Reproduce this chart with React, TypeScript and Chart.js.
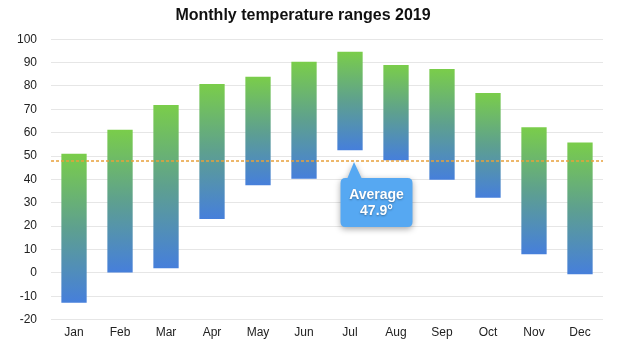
import React, { useEffect, useRef } from "react";
import { Chart, registerables } from "chart.js";

Chart.register(...registerables);

const MONTHS = ["Jan", "Feb", "Mar", "Apr", "May", "Jun", "Jul", "Aug", "Sep", "Oct", "Nov", "Dec"];
const LOWS = [-12.8, 0.2, 2.0, 23.0, 37.5, 40.3, 52.5, 48.2, 39.8, 32.2, 8.0, -0.6];
const HIGHS = [51.0, 61.3, 71.8, 80.8, 83.9, 90.3, 94.6, 89.0, 87.3, 77.0, 62.3, 55.8];
const AVERAGE = 47.9;
const AVERAGE_LABEL = ["Average", "47.9°"];
const CALLOUT_MONTH = "Jul";
const TITLE = "Monthly temperature ranges 2019";

const FONT = "'Liberation Sans', Arial, Helvetica, sans-serif";

const averagePlugin = {
  id: "averageCallout",
  afterDatasetsDraw(chart: any) {
    const { ctx, chartArea, scales } = chart;
    const y = scales.y.getPixelForValue(AVERAGE);
    ctx.save();
    // dashed line
    ctx.strokeStyle = "#e8a03a";
    ctx.lineWidth = 1.6;
    ctx.setLineDash([3, 2]);
    ctx.beginPath();
    ctx.moveTo(chartArea.left, y);
    ctx.lineTo(chartArea.right, y);
    ctx.stroke();
    ctx.setLineDash([]);

    // callout
    const idx = MONTHS.indexOf(CALLOUT_MONTH);
    const tipX = scales.x.getPixelForValue(idx) + 4;
    const tipY = y + 1;
    const bx = tipX - 13.5;
    const by = tipY + 16;
    const bw = 72;
    const bh = 49;
    const r = 5;
    ctx.fillStyle = "#56a8f2";
    ctx.shadowColor = "rgba(0,0,0,0.35)";
    ctx.shadowBlur = 6;
    ctx.shadowOffsetY = 2;
    ctx.beginPath();
    ctx.moveTo(bx + r, by);
    ctx.lineTo(tipX - 6.5, by);
    ctx.lineTo(tipX, tipY);
    ctx.lineTo(tipX + 7.5, by);
    ctx.lineTo(bx + bw - r, by);
    ctx.quadraticCurveTo(bx + bw, by, bx + bw, by + r);
    ctx.lineTo(bx + bw, by + bh - r);
    ctx.quadraticCurveTo(bx + bw, by + bh, bx + bw - r, by + bh);
    ctx.lineTo(bx + r, by + bh);
    ctx.quadraticCurveTo(bx, by + bh, bx, by + bh - r);
    ctx.lineTo(bx, by + r);
    ctx.quadraticCurveTo(bx, by, bx + r, by);
    ctx.closePath();
    ctx.fill();

    ctx.shadowColor = "rgba(0,0,0,0.35)";
    ctx.shadowBlur = 2;
    ctx.shadowOffsetY = 1;
    ctx.fillStyle = "#ffffff";
    ctx.font = "bold 14px " + FONT;
    ctx.textAlign = "center";
    ctx.textBaseline = "middle";
    const cx = bx + bw / 2;
    ctx.fillText(AVERAGE_LABEL[0], cx, by + 17);
    ctx.fillText(AVERAGE_LABEL[1], cx, by + 33.5);
    ctx.restore();
  },
};

export default function App() {
  const ref = useRef<HTMLCanvasElement | null>(null);

  useEffect(() => {
    document.body.style.margin = "0";
    const canvas = ref.current;
    if (!canvas) return;
    const chart = new Chart(canvas, {
      type: "bar",
      data: {
        labels: MONTHS,
        datasets: [
          {
            label: "Range",
            data: MONTHS.map((_, i) => [LOWS[i], HIGHS[i]]) as any,
            backgroundColor: (c: any) => {
              const ch = c.chart;
              if (!ch.chartArea || c.dataIndex === undefined) return "#5fa0a0";
              const ys = ch.scales.y;
              const top = ys.getPixelForValue(HIGHS[c.dataIndex]);
              const bot = ys.getPixelForValue(LOWS[c.dataIndex]);
              const g = ch.ctx.createLinearGradient(0, top, 0, bot);
              g.addColorStop(0, "#7acd4a");
              g.addColorStop(0.5, "#5ea08f");
              g.addColorStop(1, "#467fdb");
              return g;
            },
            borderWidth: 0,
            borderSkipped: false,
            barPercentage: 0.55,
            categoryPercentage: 1,
          },
        ],
      },
      options: {
        animation: false,
        responsive: false,
        maintainAspectRatio: false,
        layout: { padding: { left: 3, right: 16, top: 6, bottom: 9 } },
        plugins: {
          legend: { display: false },
          tooltip: { enabled: false },
          title: {
            display: true,
            text: TITLE,
            color: "#111",
            font: { family: FONT, size: 16, weight: "bold" },
            padding: { top: 0, bottom: 14 },
          },
        },
        scales: {
          x: {
            grid: { display: false, drawTicks: false },
            border: { display: false },
            ticks: { color: "#222", font: { family: FONT, size: 12 }, padding: 6 },
          },
          y: {
            min: -20,
            max: 100,
            grid: { color: "#e6e6e6", drawTicks: false, lineWidth: 1 },
            border: { display: false },
            ticks: { stepSize: 10, color: "#222", font: { family: FONT, size: 12 }, padding: 14 },
          },
        },
      },
      plugins: [averagePlugin],
    });
    return () => chart.destroy();
  }, []);

  return (
    <div style={{ width: 619, height: 355 }}>
      <canvas ref={ref} width={619} height={355} style={{ display: "block", width: 619, height: 355 }} />
    </div>
  );
}
